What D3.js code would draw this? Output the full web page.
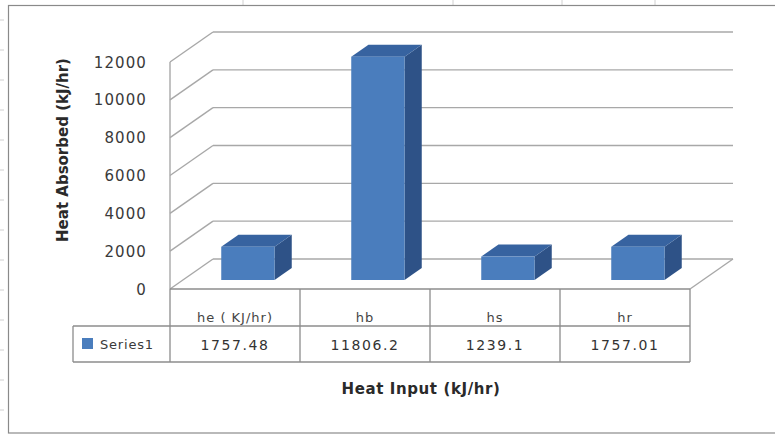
<!DOCTYPE html>
<html>
<head>
<meta charset="utf-8">
<script src="https://cdn.jsdelivr.net/npm/d3@7"></script>
<style>
  body { margin: 0; background: #fff; }
  text { font-family: "DejaVu Sans", sans-serif; }
</style>
</head>
<body>
<script>

var categories = ["he ( KJ/hr)", "hb", "hs", "hr"];
var values = [1757.48, 11806.2, 1239.1, 1757.01];
var valueLabels = ["1757.48", "11806.2", "1239.1", "1757.01"];
var yTicks = [0, 2000, 4000, 6000, 8000, 10000, 12000];
var seriesName = "Series1";

var svgWidth = 775, svgHeight = 435;

// front face of the plot and depth offset of the 3d floor
var plot = {left: 170, right: 690, top: 62, bottom: 289};
var depth = {dx: 43, dy: -30};
var barFront = 0.3, barBack = 0.7;

var svg = d3.select("body").append("svg")
    .attr("width", svgWidth)
    .attr("height", svgHeight);

// spreadsheet cell borders behind the chart
svg.append("g").selectAll("line")
    .data(d3.range(20, 430, 30))
    .enter().append("line")
    .attr("x1", 0).attr("x2", 4)
    .attr("y1", function(d){ return d; }).attr("y2", function(d){ return d; })
    .attr("stroke", "#d0d0d0");
svg.append("g").selectAll("line")
    .data([243, 453, 562, 655])
    .enter().append("line")
    .attr("x1", function(d){ return d; }).attr("x2", function(d){ return d; })
    .attr("y1", 0).attr("y2", 5)
    .attr("stroke", "#d0d0d0");

// chart frame
svg.append("rect")
    .attr("x", 8.5).attr("y", 5.5)
    .attr("width", 790).attr("height", 427.5)
    .attr("fill", "#fff")
    .attr("stroke", "#8a8a8a")
    .attr("stroke-width", 1.2);

var xScale = d3.scaleBand()
    .domain(categories)
    .range([plot.left, plot.right]);

var yScale = d3.scaleLinear()
    .domain([0, 12000])
    .range([plot.bottom, plot.top]);

var grid = svg.append("g")
    .attr("stroke", "#a8a8a8")
    .attr("stroke-width", 1.4)
    .attr("fill", "none");

// back wall gridlines
grid.selectAll(".back")
    .data(yTicks)
    .enter().append("line")
    .attr("x1", plot.left + depth.dx)
    .attr("x2", plot.right + depth.dx)
    .attr("y1", function(d){ return yScale(d) + depth.dy; })
    .attr("y2", function(d){ return yScale(d) + depth.dy; });

// side wall diagonals
grid.selectAll(".side")
    .data(yTicks)
    .enter().append("line")
    .attr("x1", plot.left)
    .attr("x2", plot.left + depth.dx)
    .attr("y1", function(d){ return yScale(d); })
    .attr("y2", function(d){ return yScale(d) + depth.dy; });

// front value axis
grid.append("line")
    .attr("x1", plot.left).attr("x2", plot.left)
    .attr("y1", yScale(12000)).attr("y2", yScale(0));

// floor right edge
grid.append("line")
    .attr("x1", plot.right).attr("x2", plot.right + depth.dx)
    .attr("y1", yScale(0)).attr("y2", yScale(0) + depth.dy);

// tick labels
svg.append("g").selectAll("text")
    .data(yTicks)
    .enter().append("text")
    .attr("x", 147)
    .attr("y", function(d){ return yScale(d) + 5.5; })
    .attr("text-anchor", "end")
    .attr("font-size", "15px")
    .attr("letter-spacing", "1.1px")
    .attr("fill", "#3a3a3a")
    .text(function(d){ return d; });

// 3d columns
var colors = {front: "#4a7dbd", top: "#3763a0", side: "#2e5287"};
var bars = svg.append("g").selectAll("g")
    .data(values)
    .enter().append("g");

function barGeom(d, i){
    var bw = xScale.bandwidth() * 0.41;
    var cx = xScale(categories[i]) + xScale.bandwidth() / 2;
    var x0 = cx - bw / 2 + depth.dx * barFront;
    var x1 = x0 + bw;
    var yb = yScale(0) + depth.dy * barFront;
    var yt = yScale(d) + depth.dy * barFront;
    var ox = depth.dx * (barBack - barFront), oy = depth.dy * (barBack - barFront);
    return {x0: x0, x1: x1, yb: yb, yt: yt, ox: ox, oy: oy};
}

bars.append("path")
    .attr("fill", colors.side)
    .attr("d", function(d, i){
        var g = barGeom(d, i);
        return "M" + g.x1 + "," + g.yb + "L" + g.x1 + "," + g.yt +
            "L" + (g.x1 + g.ox) + "," + (g.yt + g.oy) +
            "L" + (g.x1 + g.ox) + "," + (g.yb + g.oy) + "Z";
    });
bars.append("path")
    .attr("fill", colors.top)
    .attr("d", function(d, i){
        var g = barGeom(d, i);
        return "M" + g.x0 + "," + g.yt + "L" + g.x1 + "," + g.yt +
            "L" + (g.x1 + g.ox) + "," + (g.yt + g.oy) +
            "L" + (g.x0 + g.ox) + "," + (g.yt + g.oy) + "Z";
    });
bars.append("rect")
    .attr("fill", colors.front)
    .attr("x", function(d, i){ return barGeom(d, i).x0; })
    .attr("y", function(d, i){ return barGeom(d, i).yt; })
    .attr("width", function(d, i){ var g = barGeom(d, i); return g.x1 - g.x0; })
    .attr("height", function(d, i){ var g = barGeom(d, i); return g.yb - g.yt; });

// data table under the plot
var rowTop = plot.bottom, rowMid = 326, rowBot = 362, legendLeft = 73;
var table = svg.append("g")
    .attr("stroke", "#8c8c8c")
    .attr("stroke-width", 1.3);
table.append("line")
    .attr("x1", plot.left).attr("x2", plot.right)
    .attr("y1", rowTop).attr("y2", rowTop);
table.append("line")
    .attr("x1", legendLeft).attr("x2", plot.right)
    .attr("y1", rowMid).attr("y2", rowMid);
table.append("line")
    .attr("x1", legendLeft).attr("x2", plot.right)
    .attr("y1", rowBot).attr("y2", rowBot);
table.append("line")
    .attr("x1", legendLeft).attr("x2", legendLeft)
    .attr("y1", rowMid).attr("y2", rowBot);
table.selectAll(".col")
    .data(categories.concat(["end"]))
    .enter().append("line")
    .attr("x1", function(d, i){ return plot.left + i * xScale.bandwidth(); })
    .attr("x2", function(d, i){ return plot.left + i * xScale.bandwidth(); })
    .attr("y1", rowTop).attr("y2", rowBot);

svg.append("g").selectAll("text")
    .data(categories)
    .enter().append("text")
    .attr("x", function(d){ return xScale(d) + xScale.bandwidth() / 2; })
    .attr("y", 322)
    .attr("text-anchor", "middle")
    .attr("font-size", "13px")
    .attr("letter-spacing", "1px")
    .attr("fill", "#444")
    .text(function(d){ return d; });

svg.append("g").selectAll("text")
    .data(valueLabels)
    .enter().append("text")
    .attr("x", function(d, i){ return xScale(categories[i]) + xScale.bandwidth() / 2; })
    .attr("y", 350)
    .attr("text-anchor", "middle")
    .attr("font-size", "14px")
    .attr("letter-spacing", "1.6px")
    .attr("fill", "#333")
    .text(function(d){ return d; });

// legend key in the table
svg.append("rect")
    .attr("x", 82).attr("y", 338)
    .attr("width", 11).attr("height", 11)
    .attr("fill", colors.front);
svg.append("text")
    .attr("x", 100).attr("y", 349)
    .attr("font-size", "13px")
    .attr("letter-spacing", "0.8px")
    .attr("fill", "#3a3a3a")
    .text(seriesName);

// axis titles
svg.append("text")
    .attr("transform", "translate(68,150) rotate(-90)")
    .attr("text-anchor", "middle")
    .attr("font-size", "15px")
    .attr("font-weight", "bold")
    .attr("fill", "#2a2a2a")
    .text("Heat Absorbed (kJ/hr)");

svg.append("text")
    .attr("x", 421).attr("y", 394)
    .attr("text-anchor", "middle")
    .attr("font-size", "15px")
    .attr("font-weight", "bold")
    .attr("letter-spacing", "0.6px")
    .attr("fill", "#2a2a2a")
    .text("Heat Input (kJ/hr)");

</script>
</body>
</html>
